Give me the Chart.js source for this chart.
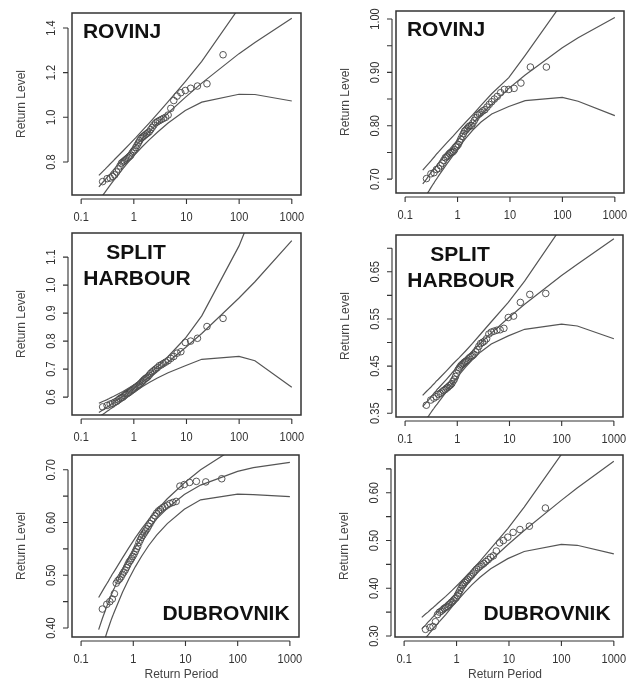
<!DOCTYPE html>
<html>
<head>
<meta charset="utf-8">
<script src="https://cdn.jsdelivr.net/npm/chart.js@4.4.1/dist/chart.umd.min.js"></script>
<style>
  body { margin: 0; background: #fff; }
  #wrap { position: relative; width: 639px; height: 682px; }
  #wrap canvas { position: absolute; }
</style>
</head>
<body>
<div id="wrap">
  <canvas id="p1" width="320" height="225" style="left:0;top:0"></canvas>
  <canvas id="p2" width="319" height="225" style="left:320px;top:0"></canvas>
  <canvas id="p3" width="320" height="220" style="left:0;top:225px"></canvas>
  <canvas id="p4" width="319" height="220" style="left:320px;top:225px"></canvas>
  <canvas id="p5" width="320" height="237" style="left:0;top:445px"></canvas>
  <canvas id="p6" width="319" height="237" style="left:320px;top:445px"></canvas>
</div>
<script>
// return periods of the fitted curve / bounds
const linePeriods = [0.2171, 0.2556, 0.2852, 0.3107, 0.3338, 0.3554, 0.3760, 0.3959, 0.4153, 0.4343,
  0.6213, 0.8306, 1.0914, 1.4427, 1.9576, 2.8037, 4.4814, 9.4912, 19.496, 99.50, 199.5, 999.5];

// return periods of the observed values
const pointPeriods = [0.2556, 0.3107, 0.3554, 0.3959, 0.4343, 0.4717, 0.5086, 0.5457, 0.5832, 0.6213,
  0.6604, 0.7007, 0.7424, 0.7856, 0.8306, 0.8776, 0.9270, 0.9788, 1.0335, 1.0914,
  1.1528, 1.2180, 1.2878, 1.3624, 1.4427, 1.5293, 1.6228, 1.7247, 1.8358, 1.9576,
  2.0920, 2.2407, 2.4067, 2.5930, 2.8037, 3.0441, 3.3211, 3.6440, 4.0248, 4.4814,
  5.0391, 5.7350, 6.6303, 7.8229, 9.4912, 11.992, 16.161, 24.499, 49.499];

const xTicks = [0.1, 1, 10, 100, 1000];
const xTickLabels = ['0.1', '1', '10', '100', '1000'];

// ROVINJ (left)
const rovinjLFit = [0.688, 0.708, 0.721, 0.731, 0.740, 0.747, 0.754, 0.760, 0.766, 0.771, 0.812, 0.845, 0.875, 0.904, 0.936, 0.973, 1.019, 1.089, 1.153, 1.285, 1.335, 1.443];
const rovinjLUpper = [0.740, 0.757, 0.768, 0.777, 0.784, 0.791, 0.797, 0.802, 0.807, 0.812, 0.849, 0.880, 0.909, 0.940, 0.974, 1.015, 1.070, 1.160, 1.250, 1.490, 1.600, 1.880];
const rovinjLLower = [0.626, 0.650, 0.665, 0.677, 0.687, 0.696, 0.704, 0.711, 0.717, 0.723, 0.770, 0.806, 0.838, 0.868, 0.899, 0.933, 0.974, 1.030, 1.068, 1.103, 1.102, 1.073];
const rovinjLObs = [0.712, 0.725, 0.728, 0.735, 0.742, 0.755, 0.768, 0.782, 0.795, 0.800, 0.805, 0.810, 0.815, 0.820, 0.825, 0.830, 0.840, 0.848, 0.855, 0.865,
  0.875, 0.885, 0.895, 0.905, 0.910, 0.915, 0.920, 0.925, 0.930, 0.935, 0.945, 0.955, 0.965, 0.975, 0.980, 0.985, 0.990, 0.995, 1.000, 1.010,
  1.040, 1.075, 1.095, 1.110, 1.120, 1.130, 1.140, 1.150, 1.280];
const rovinjLTicks = [0.8, 1.0, 1.2, 1.4];
const rovinjLTickLabels = ['0.8', '1.0', '1.2', '1.4'];

// ROVINJ (right)
const rovinjRFit = [0.691, 0.700, 0.707, 0.712, 0.716, 0.719, 0.722, 0.725, 0.728, 0.730, 0.749, 0.764, 0.777, 0.791, 0.805, 0.821, 0.840, 0.870, 0.895, 0.946, 0.965, 1.003];
const rovinjRUpper = [0.717, 0.725, 0.730, 0.734, 0.738, 0.741, 0.744, 0.747, 0.749, 0.751, 0.768, 0.781, 0.794, 0.807, 0.821, 0.838, 0.860, 0.890, 0.932, 1.030, 1.080, 1.200];
const rovinjRLower = [0.660, 0.671, 0.678, 0.684, 0.689, 0.693, 0.697, 0.700, 0.703, 0.706, 0.728, 0.745, 0.762, 0.777, 0.792, 0.807, 0.822, 0.836, 0.847, 0.853, 0.846, 0.819];
const rovinjRObs = [0.701, 0.710, 0.712, 0.718, 0.720, 0.725, 0.730, 0.735, 0.740, 0.742, 0.745, 0.748, 0.750, 0.750, 0.752, 0.755, 0.760, 0.762, 0.765, 0.770,
  0.775, 0.780, 0.785, 0.790, 0.792, 0.795, 0.798, 0.800, 0.800, 0.805, 0.810, 0.815, 0.820, 0.822, 0.825, 0.828, 0.830, 0.835, 0.840, 0.845,
  0.850, 0.855, 0.862, 0.868, 0.868, 0.870, 0.880, 0.910, 0.910];
const rovinjRTicks = [0.70, 0.75, 0.80, 0.85, 0.90, 0.95, 1.00];
const rovinjRTickLabels = ['0.70', '', '0.80', '', '0.90', '', '1.00'];

// SPLIT HARBOUR (left)
const splitLFit = [0.545, 0.554, 0.560, 0.564, 0.568, 0.572, 0.575, 0.578, 0.580, 0.583, 0.603, 0.620, 0.636, 0.653, 0.672, 0.695, 0.725, 0.776, 0.827, 0.954, 1.012, 1.159];
const splitLUpper = [0.578, 0.584, 0.588, 0.591, 0.594, 0.597, 0.599, 0.601, 0.603, 0.605, 0.620, 0.634, 0.648, 0.664, 0.683, 0.708, 0.745, 0.810, 0.890, 1.140, 1.280, 1.700];
const splitLLower = [0.530, 0.538, 0.544, 0.549, 0.553, 0.557, 0.560, 0.563, 0.565, 0.568, 0.588, 0.606, 0.622, 0.637, 0.652, 0.668, 0.687, 0.712, 0.735, 0.745, 0.730, 0.635];
const splitLObs = [0.565, 0.570, 0.575, 0.578, 0.582, 0.585, 0.590, 0.595, 0.598, 0.600, 0.605, 0.610, 0.612, 0.615, 0.618, 0.622, 0.625, 0.628, 0.632, 0.635,
  0.638, 0.642, 0.645, 0.650, 0.655, 0.660, 0.665, 0.668, 0.672, 0.678, 0.685, 0.690, 0.695, 0.700, 0.705, 0.712, 0.715, 0.720, 0.725, 0.730,
  0.738, 0.745, 0.757, 0.762, 0.795, 0.800, 0.810, 0.852, 0.881];
const splitLTicks = [0.6, 0.7, 0.8, 0.9, 1.0, 1.1];
const splitLTickLabels = ['0.6', '0.7', '0.8', '0.9', '1.0', '1.1'];

// SPLIT HARBOUR (right)
const splitRFit = [0.364, 0.373, 0.379, 0.384, 0.388, 0.392, 0.395, 0.398, 0.401, 0.403, 0.422, 0.438, 0.453, 0.467, 0.482, 0.499, 0.520, 0.552, 0.581, 0.642, 0.666, 0.720];
const splitRUpper = [0.388, 0.396, 0.401, 0.405, 0.409, 0.412, 0.415, 0.418, 0.420, 0.422, 0.440, 0.455, 0.468, 0.482, 0.498, 0.518, 0.544, 0.585, 0.630, 0.745, 0.800, 0.945];
const splitRLower = [0.328, 0.338, 0.345, 0.351, 0.356, 0.360, 0.364, 0.367, 0.370, 0.373, 0.396, 0.415, 0.432, 0.448, 0.464, 0.480, 0.497, 0.514, 0.528, 0.539, 0.535, 0.508];
const splitRObs = [0.367, 0.378, 0.382, 0.385, 0.390, 0.392, 0.395, 0.398, 0.400, 0.403, 0.405, 0.408, 0.410, 0.413, 0.418, 0.422, 0.428, 0.435, 0.442, 0.446,
  0.450, 0.453, 0.455, 0.458, 0.460, 0.462, 0.465, 0.468, 0.470, 0.472, 0.475, 0.480, 0.485, 0.492, 0.498, 0.500, 0.503, 0.508, 0.518, 0.522,
  0.524, 0.526, 0.527, 0.530, 0.553, 0.556, 0.585, 0.602, 0.604];
const splitRTicks = [0.35, 0.40, 0.45, 0.50, 0.55, 0.60, 0.65, 0.70];
const splitRTickLabels = ['0.35', '', '0.45', '', '0.55', '', '0.65', ''];

// DUBROVNIK (left)
const dubrovnikLFit = [0.397, 0.418, 0.431, 0.441, 0.449, 0.456, 0.462, 0.467, 0.472, 0.476, 0.510, 0.533, 0.553, 0.571, 0.589, 0.607, 0.627, 0.653, 0.671, 0.697, 0.704, 0.714];
const dubrovnikLUpper = [0.458, 0.470, 0.478, 0.484, 0.489, 0.494, 0.498, 0.502, 0.505, 0.508, 0.533, 0.553, 0.571, 0.588, 0.605, 0.623, 0.645, 0.675, 0.700, 0.745, 0.760, 0.790];
const dubrovnikLLower = [0.340, 0.364, 0.379, 0.391, 0.400, 0.408, 0.415, 0.421, 0.426, 0.431, 0.468, 0.494, 0.516, 0.536, 0.556, 0.576, 0.598, 0.625, 0.643, 0.654, 0.653, 0.649];
const dubrovnikLObs = [0.436, 0.445, 0.450, 0.455, 0.465, 0.485, 0.490, 0.493, 0.497, 0.502, 0.506, 0.510, 0.515, 0.520, 0.525, 0.528, 0.532, 0.536, 0.540, 0.545,
  0.550, 0.555, 0.562, 0.567, 0.572, 0.576, 0.580, 0.584, 0.588, 0.593, 0.598, 0.603, 0.608, 0.613, 0.618, 0.622, 0.625, 0.628, 0.630, 0.633,
  0.636, 0.638, 0.640, 0.669, 0.672, 0.676, 0.678, 0.677, 0.683];
const dubrovnikLTicks = [0.40, 0.45, 0.50, 0.55, 0.60, 0.65, 0.70];
const dubrovnikLTickLabels = ['0.40', '', '0.50', '', '0.60', '', '0.70'];

// DUBROVNIK (right)
const dubrovnikRFit = [0.315, 0.323, 0.329, 0.333, 0.337, 0.340, 0.343, 0.345, 0.348, 0.350, 0.367, 0.381, 0.394, 0.407, 0.421, 0.438, 0.458, 0.491, 0.521, 0.584, 0.610, 0.666];
const dubrovnikRUpper = [0.339, 0.346, 0.350, 0.354, 0.357, 0.359, 0.362, 0.364, 0.366, 0.368, 0.383, 0.396, 0.409, 0.423, 0.438, 0.457, 0.483, 0.525, 0.570, 0.680, 0.735, 0.880];
const dubrovnikRLower = [0.287, 0.296, 0.302, 0.307, 0.311, 0.315, 0.318, 0.321, 0.323, 0.326, 0.345, 0.362, 0.377, 0.392, 0.407, 0.423, 0.441, 0.462, 0.477, 0.492, 0.490, 0.472];
const dubrovnikRObs = [0.314, 0.318, 0.320, 0.330, 0.345, 0.350, 0.352, 0.355, 0.358, 0.360, 0.362, 0.365, 0.367, 0.370, 0.372, 0.375, 0.378, 0.380, 0.385, 0.390,
  0.395, 0.400, 0.405, 0.408, 0.412, 0.415, 0.418, 0.422, 0.425, 0.428, 0.432, 0.436, 0.440, 0.443, 0.446, 0.449, 0.452, 0.456, 0.460, 0.465,
  0.468, 0.478, 0.495, 0.500, 0.507, 0.517, 0.523, 0.530, 0.568];
const dubrovnikRTicks = [0.30, 0.35, 0.40, 0.45, 0.50, 0.55, 0.60, 0.65];
const dubrovnikRTickLabels = ['0.30', '', '0.40', '', '0.50', '', '0.60', ''];

const FONT = '"Liberation Sans", Arial, Helvetica, sans-serif';

// draws the R-style box, offset axes, tick labels, titles and station name
const rPlot = {
  id: 'rPlot',
  afterDraw(chart, args, o) {
    const ctx = chart.ctx;
    const a = chart.chartArea;
    const xs = chart.scales.x;
    const ys = chart.scales.y;
    ctx.save();

    ctx.strokeStyle = '#333';
    ctx.lineWidth = 1.5;
    ctx.strokeRect(a.left, a.top, a.right - a.left, a.bottom - a.top);

    // x axis
    ctx.lineWidth = 1.1;
    const ax = a.bottom + 4;
    ctx.beginPath();
    ctx.moveTo(xs.getPixelForValue(xTicks[0]), ax);
    ctx.lineTo(xs.getPixelForValue(xTicks[xTicks.length - 1]), ax);
    xTicks.forEach(v => {
      const px = xs.getPixelForValue(v);
      ctx.moveTo(px, ax);
      ctx.lineTo(px, ax + 5);
    });
    // y axis
    const ay = a.left - 4;
    ctx.moveTo(ay, ys.getPixelForValue(o.yTicks[0]));
    ctx.lineTo(ay, ys.getPixelForValue(o.yTicks[o.yTicks.length - 1]));
    o.yTicks.forEach(v => {
      const py = ys.getPixelForValue(v);
      ctx.moveTo(ay, py);
      ctx.lineTo(ay - 5, py);
    });
    ctx.stroke();

    ctx.fillStyle = '#333';
    ctx.textAlign = 'center';
    ctx.textBaseline = 'middle';
    ctx.font = '13px ' + FONT;
    xTicks.forEach((v, i) => {
      ctx.save();
      ctx.translate(xs.getPixelForValue(v), a.bottom + 22);
      ctx.scale(0.85, 1);
      ctx.fillText(xTickLabels[i], 0, 0);
      ctx.restore();
    });
    o.yTicks.forEach((v, i) => {
      if (!o.yLabels[i]) return;
      ctx.save();
      ctx.translate(a.left - 21, ys.getPixelForValue(v));
      ctx.rotate(-Math.PI / 2);
      ctx.scale(0.85, 1);
      ctx.fillText(o.yLabels[i], 0, 0);
      ctx.restore();
    });

    // axis titles
    ctx.fillStyle = '#444';
    ctx.font = '12px ' + FONT;
    ctx.save();
    ctx.translate(a.left - 50, (a.top + a.bottom) / 2);
    ctx.rotate(-Math.PI / 2);
    ctx.fillText('Return Level', 0, 0);
    ctx.restore();
    if (o.xTitle) {
      ctx.fillText('Return Period', (a.left + a.right) / 2 - 4, a.bottom + 38);
    }

    // station name
    ctx.fillStyle = '#111';
    ctx.font = 'bold 21px ' + FONT;
    o.names.forEach(n => {
      ctx.fillText(n.text, a.left + n.dx, a.top + n.dy);
    });
    ctx.restore();
  }
};

function buildPanel(id, p) {
  const curve = (vals) => ({
    data: linePeriods.map((x, i) => ({ x: x, y: vals[i] })),
    showLine: true,
    pointRadius: 0,
    borderColor: '#555',
    borderWidth: 1.2,
    fill: false
  });
  return new Chart(document.getElementById(id), {
    type: 'scatter',
    data: {
      datasets: [
        curve(p.fit),
        curve(p.upper),
        curve(p.lower),
        {
          data: pointPeriods.map((x, i) => ({ x: x, y: p.obs[i] })),
          showLine: false,
          pointRadius: 3.3,
          pointBorderWidth: 0.9,
          pointBorderColor: '#444',
          pointBackgroundColor: 'rgba(0,0,0,0)'
        }
      ]
    },
    options: {
      responsive: false,
      animation: false,
      devicePixelRatio: 1,
      layout: { padding: p.pad },
      plugins: {
        legend: { display: false },
        tooltip: { enabled: false },
        rPlot: { yTicks: p.yTicks, yLabels: p.yLabels, xTitle: p.xTitle, names: p.names }
      },
      scales: {
        x: { type: 'logarithmic', min: 0.067, max: 1495, display: false },
        y: { type: 'linear', min: p.yMin, max: p.yMax, display: false }
      }
    },
    plugins: [rPlot]
  });
}

const rovinjName = [{ text: 'ROVINJ', dx: 50, dy: 19 }];
const splitName = [{ text: 'SPLIT', dx: 64, dy: 20 }, { text: 'HARBOUR', dx: 65, dy: 46 }];

buildPanel('p1', {
  fit: rovinjLFit, upper: rovinjLUpper, lower: rovinjLLower, obs: rovinjLObs,
  yTicks: rovinjLTicks, yLabels: rovinjLTickLabels, yMin: 0.652, yMax: 1.467,
  pad: { left: 72, right: 19, top: 13, bottom: 30 }, names: rovinjName, xTitle: false
});
buildPanel('p2', {
  fit: rovinjRFit, upper: rovinjRUpper, lower: rovinjRLower, obs: rovinjRObs,
  yTicks: rovinjRTicks, yLabels: rovinjRTickLabels, yMin: 0.674, yMax: 1.015,
  pad: { left: 76, right: 15, top: 11, bottom: 32 }, names: rovinjName, xTitle: false
});
buildPanel('p3', {
  fit: splitLFit, upper: splitLUpper, lower: splitLLower, obs: splitLObs,
  yTicks: splitLTicks, yLabels: splitLTickLabels, yMin: 0.536, yMax: 1.186,
  pad: { left: 72, right: 19, top: 8, bottom: 30 }, names: splitName, xTitle: false
});
buildPanel('p4', {
  fit: splitRFit, upper: splitRUpper, lower: splitRLower, obs: splitRObs,
  yTicks: splitRTicks, yLabels: splitRTickLabels, yMin: 0.342, yMax: 0.728,
  pad: { left: 76, right: 16, top: 10, bottom: 28 }, names: splitName, xTitle: false
});
buildPanel('p5', {
  fit: dubrovnikLFit, upper: dubrovnikLUpper, lower: dubrovnikLLower, obs: dubrovnikLObs,
  yTicks: dubrovnikLTicks, yLabels: dubrovnikLTickLabels, yMin: 0.383, yMax: 0.728,
  pad: { left: 72, right: 21, top: 10, bottom: 45 }, names: [{ text: 'DUBROVNIK', dx: 154, dy: 159 }], xTitle: true
});
buildPanel('p6', {
  fit: dubrovnikRFit, upper: dubrovnikRUpper, lower: dubrovnikRLower, obs: dubrovnikRObs,
  yTicks: dubrovnikRTicks, yLabels: dubrovnikRTickLabels, yMin: 0.298, yMax: 0.679,
  pad: { left: 75, right: 16, top: 10, bottom: 45 }, names: [{ text: 'DUBROVNIK', dx: 152, dy: 159 }], xTitle: true
});
</script>
</body>
</html>
